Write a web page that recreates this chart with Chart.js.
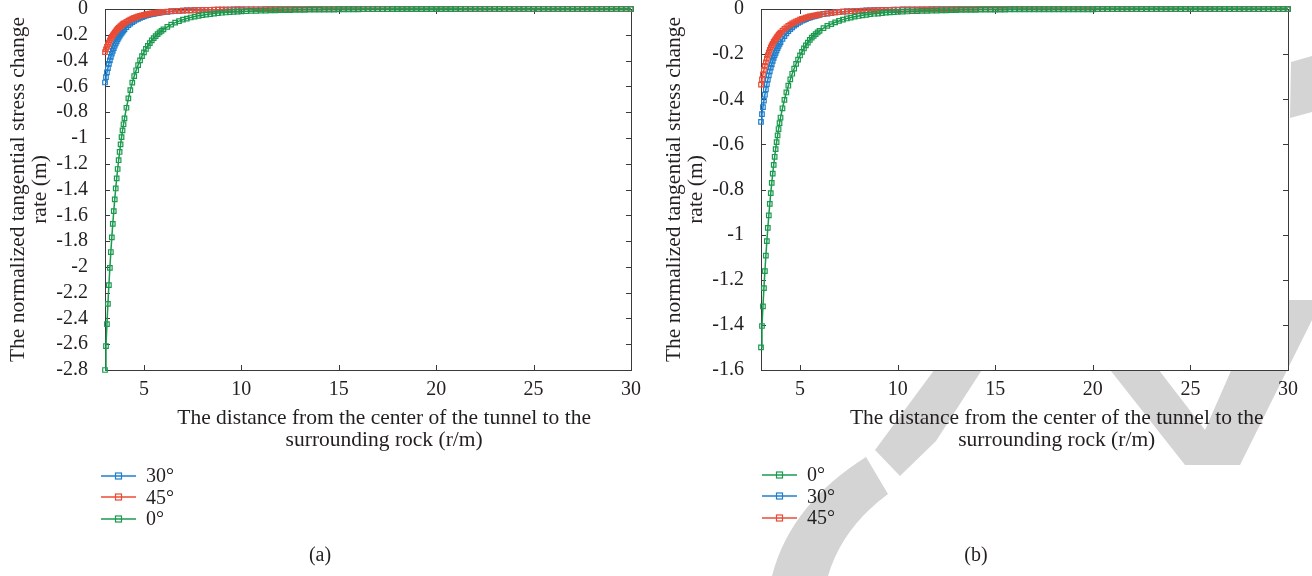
<!DOCTYPE html>
<html>
<head>
<meta charset="utf-8">
<script src="https://cdn.jsdelivr.net/npm/chart.js@4.4.0/dist/chart.umd.min.js"></script>
<style>
  body { margin: 0; background: #fff; }
  #page { position: relative; width: 1312px; height: 576px; overflow: hidden;
          font-family: "Liberation Serif", "DejaVu Serif", serif; color: #231f20; }
  #mark { position: absolute; left: 0; top: 0; }
  canvas { position: absolute; top: 0; }
  #ca { left: 0; }
  #cb { left: 656px; }
  .legend { position: absolute; font-size: 20px; }
  .legend div { display: flex; align-items: center; height: 21.5px; }
  .legend svg { margin-right: 9px; }
  .cap { position: absolute; top: 543px; width: 100px; font-size: 20px; text-align: center; }
</style>
</head>
<body>
<div id="page">
  <!-- grey watermark, sits behind the figure -->
  <svg id="mark" width="1312" height="576">
    <g fill="#d4d4d4">
      <path d="M772 576 Q 790 505 866 457 L 888 494 Q 842 528 828 576 Z"/>
      <polygon points="875,450 900,476 936,441 1027,300 986,300"/>
      <polygon points="1055,300 1105,300 1205,430 1262,300 1312,300 1312,320 1240,465 1185,465"/>
      <polygon points="1291,62 1312,56 1312,112 1290,118"/>
    </g>
  </svg>
  <canvas id="ca" width="656" height="576"></canvas>
  <canvas id="cb" width="656" height="576"></canvas>
  <div class="legend" id="la" style="left:101px;top:465px"></div>
  <div class="legend" id="lb" style="left:762px;top:464px"></div>
  <div class="cap" style="left:270px">(a)</div>
  <div class="cap" style="left:926px">(b)</div>
</div>
<script>
// distance r (m)
const radius = [
  3, 3.05, 3.1, 3.15, 3.2, 3.25, 3.3, 3.35, 3.4, 3.45, 3.5, 3.55, 3.6, 3.65, 3.7, 3.75, 3.8, 3.85, 3.9, 3.95, 4,
  4.1, 4.2, 4.3, 4.4, 4.5, 4.6, 4.7, 4.8, 4.9, 5, 5.1, 5.2, 5.3, 5.4, 5.5, 5.6, 5.7, 5.8, 5.9, 6,
  6.2, 6.4, 6.6, 6.8, 7, 7.2, 7.4, 7.6, 7.8, 8, 8.2, 8.4, 8.6, 8.8, 9, 9.2, 9.4, 9.6, 9.8, 10,
  10.25, 10.5, 10.75, 11, 11.25, 11.5, 11.75, 12, 12.25, 12.5, 12.75, 13, 13.25, 13.5, 13.75, 14, 14.25, 14.5, 14.75, 15,
  15.25, 15.5, 15.75, 16, 16.25, 16.5, 16.75, 17, 17.25, 17.5, 17.75, 18, 18.25, 18.5, 18.75, 19, 19.25, 19.5, 19.75, 20,
  20.25, 20.5, 20.75, 21, 21.25, 21.5, 21.75, 22, 22.25, 22.5, 22.75, 23, 23.25, 23.5, 23.75, 24, 24.25, 24.5, 24.75, 25,
  25.25, 25.5, 25.75, 26, 26.25, 26.5, 26.75, 27, 27.25, 27.5, 27.75, 28, 28.25, 28.5, 28.75, 29, 29.25, 29.5, 29.75, 30
];

// panel (a)
const a0 = [
  -2.800, -2.614, -2.444, -2.287, -2.142, -2.008, -1.885, -1.771, -1.666, -1.568, -1.477, -1.392, -1.314, -1.241, -1.173, -1.109, -1.050, -0.994, -0.942, -0.894, -0.848,
  -0.766, -0.693, -0.629, -0.571, -0.520, -0.475, -0.435, -0.398, -0.365, -0.336, -0.310, -0.286, -0.264, -0.244, -0.226, -0.210, -0.195, -0.182, -0.169, -0.158,
  -0.138, -0.121, -0.106, -0.094, -0.083, -0.074, -0.066, -0.059, -0.053, -0.048, -0.043, -0.039, -0.035, -0.032, -0.029, -0.027, -0.024, -0.022, -0.021, -0.019,
  -0.017, -0.015, -0.014, -0.013, -0.012, -0.011, -0.010, -0.009, -0.008, -0.008, -0.007, -0.006, -0.006, -0.005, -0.005, -0.005, -0.004, -0.004, -0.004, -0.003,
  -0.003, -0.003, -0.003, -0.003, -0.002, -0.002, -0.002, -0.002, -0.002, -0.002, -0.001, -0.001, -0.001, -0.001, -0.001, -0.001, -0.001, -0.001, -0.001, -0.001,
  -0.001, -0.001, -0.001, -0.001, 0, 0, 0, 0, 0, 0, 0, 0, 0, 0, 0, 0, 0, 0, 0, 0,
  0, 0, 0, 0, 0, 0, 0, 0, 0, 0, 0, 0, 0, 0, 0, 0, 0, 0, 0, 0
];
const a30 = [
  -0.570, -0.529, -0.492, -0.458, -0.426, -0.398, -0.371, -0.347, -0.325, -0.304, -0.285, -0.267, -0.251, -0.236, -0.222, -0.209, -0.197, -0.185, -0.175, -0.165, -0.156,
  -0.140, -0.125, -0.113, -0.102, -0.092, -0.083, -0.076, -0.069, -0.063, -0.057, -0.052, -0.048, -0.044, -0.040, -0.037, -0.034, -0.032, -0.029, -0.027, -0.025,
  -0.022, -0.019, -0.016, -0.014, -0.013, -0.011, -0.010, -0.009, -0.008, -0.007, -0.006, -0.006, -0.005, -0.005, -0.004, -0.004, -0.004, -0.003, -0.003, -0.003,
  -0.002, -0.002, -0.002, -0.002, -0.001, -0.001, -0.001, -0.001, -0.001, -0.001, -0.001, -0.001, -0.001, -0.001, -0.001, -0.001, 0, 0, 0, 0,
  0, 0, 0, 0, 0, 0, 0, 0, 0, 0, 0, 0, 0, 0, 0, 0, 0, 0, 0, 0,
  0, 0, 0, 0, 0, 0, 0, 0, 0, 0, 0, 0, 0, 0, 0, 0, 0, 0, 0, 0,
  0, 0, 0, 0, 0, 0, 0, 0, 0, 0, 0, 0, 0, 0, 0, 0, 0, 0, 0, 0
];
const a45 = [
  -0.334, -0.313, -0.294, -0.276, -0.260, -0.244, -0.230, -0.217, -0.205, -0.194, -0.183, -0.173, -0.164, -0.155, -0.147, -0.140, -0.133, -0.126, -0.120, -0.114, -0.109,
  -0.099, -0.090, -0.082, -0.075, -0.069, -0.063, -0.058, -0.053, -0.049, -0.046, -0.042, -0.039, -0.036, -0.034, -0.031, -0.029, -0.027, -0.026, -0.024, -0.022,
  -0.020, -0.017, -0.015, -0.014, -0.012, -0.011, -0.010, -0.009, -0.008, -0.007, -0.007, -0.006, -0.006, -0.005, -0.005, -0.004, -0.004, -0.004, -0.003, -0.003,
  -0.002, -0.002, -0.002, -0.002, -0.001, -0.001, -0.001, -0.001, -0.001, -0.001, -0.001, -0.001, -0.001, -0.001, -0.001, -0.001, 0, 0, 0, 0,
  0, 0, 0, 0, 0, 0, 0, 0, 0, 0, 0, 0, 0, 0, 0, 0, 0, 0, 0, 0,
  0, 0, 0, 0, 0, 0, 0, 0, 0, 0, 0, 0, 0, 0, 0, 0, 0, 0, 0, 0,
  0, 0, 0, 0, 0, 0, 0, 0, 0, 0, 0, 0, 0, 0, 0, 0, 0, 0, 0, 0
];

// panel (b)
const b0 = [
  -1.500, -1.405, -1.318, -1.237, -1.162, -1.093, -1.029, -0.970, -0.915, -0.864, -0.816, -0.771, -0.730, -0.691, -0.655, -0.621, -0.590, -0.560, -0.532, -0.506, -0.481,
  -0.440, -0.403, -0.370, -0.340, -0.312, -0.287, -0.264, -0.243, -0.224, -0.206, -0.190, -0.175, -0.161, -0.149, -0.137, -0.127, -0.119, -0.111, -0.104, -0.097,
  -0.085, -0.075, -0.067, -0.059, -0.053, -0.047, -0.042, -0.038, -0.034, -0.031, -0.028, -0.026, -0.023, -0.021, -0.020, -0.018, -0.016, -0.015, -0.014, -0.013,
  -0.012, -0.011, -0.010, -0.009, -0.008, -0.008, -0.007, -0.007, -0.006, -0.006, -0.005, -0.005, -0.004, -0.004, -0.004, -0.004, -0.003, -0.003, -0.003, -0.003,
  -0.003, -0.003, -0.002, -0.002, -0.002, -0.002, -0.002, -0.002, -0.002, -0.002, -0.002, -0.002, -0.002, -0.002, -0.002, -0.002, -0.002, -0.002, -0.002, -0.002,
  -0.001, -0.001, -0.001, -0.001, -0.001, -0.001, -0.001, -0.001, -0.001, -0.001, -0.001, -0.001, -0.001, -0.001, -0.001, -0.001, -0.001, -0.001, -0.001, -0.001,
  -0.001, -0.001, -0.001, -0.001, -0.001, -0.001, -0.001, -0.001, -0.001, -0.001, -0.001, -0.001, -0.001, -0.001, -0.001, -0.001, -0.001, -0.001, -0.001, -0.001
];
const b30 = [
  -0.500, -0.466, -0.435, -0.406, -0.380, -0.356, -0.333, -0.313, -0.294, -0.276, -0.260, -0.245, -0.230, -0.217, -0.205, -0.194, -0.183, -0.173, -0.164, -0.155, -0.147,
  -0.133, -0.120, -0.108, -0.098, -0.089, -0.081, -0.074, -0.068, -0.062, -0.057, -0.052, -0.048, -0.045, -0.041, -0.038, -0.035, -0.033, -0.030, -0.028, -0.026,
  -0.023, -0.020, -0.018, -0.015, -0.014, -0.012, -0.011, -0.010, -0.009, -0.008, -0.007, -0.006, -0.006, -0.005, -0.005, -0.004, -0.004, -0.004, -0.003, -0.003,
  -0.002, -0.002, -0.002, -0.002, -0.002, -0.002, -0.001, -0.001, -0.001, -0.001, -0.001, -0.001, -0.001, -0.001, -0.001, -0.001, -0.001, -0.001, -0.001, -0.001,
  0, 0, 0, 0, 0, 0, 0, 0, 0, 0, 0, 0, 0, 0, 0, 0, 0, 0, 0, 0,
  0, 0, 0, 0, 0, 0, 0, 0, 0, 0, 0, 0, 0, 0, 0, 0, 0, 0, 0, 0,
  0, 0, 0, 0, 0, 0, 0, 0, 0, 0, 0, 0, 0, 0, 0, 0, 0, 0, 0, 0
];
const b45 = [
  -0.335, -0.312, -0.290, -0.270, -0.252, -0.236, -0.220, -0.206, -0.193, -0.181, -0.170, -0.161, -0.154, -0.146, -0.139, -0.133, -0.126, -0.121, -0.115, -0.110, -0.105,
  -0.096, -0.088, -0.081, -0.075, -0.069, -0.064, -0.059, -0.055, -0.051, -0.047, -0.044, -0.041, -0.038, -0.036, -0.033, -0.031, -0.029, -0.028, -0.026, -0.024,
  -0.022, -0.019, -0.017, -0.015, -0.014, -0.012, -0.011, -0.010, -0.009, -0.008, -0.008, -0.007, -0.006, -0.006, -0.005, -0.005, -0.005, -0.004, -0.004, -0.004,
  -0.003, -0.003, -0.003, -0.003, -0.002, -0.002, -0.002, -0.002, -0.002, -0.002, -0.001, -0.001, -0.001, -0.001, -0.001, -0.001, -0.001, -0.001, -0.001, -0.001,
  -0.001, -0.001, -0.001, -0.001, 0, 0, 0, 0, 0, 0, 0, 0, 0, 0, 0, 0, 0, 0, 0, 0,
  0, 0, 0, 0, 0, 0, 0, 0, 0, 0, 0, 0, 0, 0, 0, 0, 0, 0, 0, 0,
  0, 0, 0, 0, 0, 0, 0, 0, 0, 0, 0, 0, 0, 0, 0, 0, 0, 0, 0, 0
];

const angleLabels = ['0°', '30°', '45°'];
const angleColors = ['#1a9a4e', '#1f7fcc', '#ea4b35'];
const xTitle = ['The distance from the center of the tunnel to the', 'surrounding rock (r/m)'];
const yTitle = ['The normalized tangential stress change', 'rate (m)'];

const serif = '"Liberation Serif", "DejaVu Serif", serif';
const ink = '#231f20';
const axisInk = '#3a3a3a';

// white axes box with inward tick marks on all four sides (matlab look)
const frame = {
  id: 'frame',
  beforeDraw(chart) {
    const { ctx, chartArea: a } = chart;
    ctx.save();
    ctx.fillStyle = '#fff';
    ctx.fillRect(a.left, a.top, a.right - a.left, a.bottom - a.top);
    ctx.restore();
  },
  beforeDatasetsDraw(chart) {
    const { ctx, chartArea: a, scales: { x, y } } = chart;
    const len = 5;
    ctx.save();
    ctx.strokeStyle = axisInk;
    ctx.lineWidth = 1;
    ctx.beginPath();
    x.ticks.forEach(t => {
      const p = Math.round(x.getPixelForValue(t.value)) + 0.5;
      ctx.moveTo(p, a.bottom); ctx.lineTo(p, a.bottom - len);
      ctx.moveTo(p, a.top); ctx.lineTo(p, a.top + len);
    });
    y.ticks.forEach(t => {
      const p = Math.round(y.getPixelForValue(t.value)) + 0.5;
      ctx.moveTo(a.left, p); ctx.lineTo(a.left + len, p);
      ctx.moveTo(a.right, p); ctx.lineTo(a.right - len, p);
    });
    ctx.stroke();
    ctx.strokeRect(Math.round(a.left) + 0.5, Math.round(a.top) + 0.5,
      Math.round(a.right - a.left), Math.round(a.bottom - a.top));
    ctx.restore();
  }
};

// xShift nudges the centred x title to the right, as in the source figure
function drawPanel(id, series, yMin, rightPad, xShift) {
  // index 0 is drawn last, so green ends up on top
  const order = [0, 2, 1];
  const datasets = order.map(k => ({
    label: angleLabels[k],
    data: radius.map((r, i) => ({ x: r, y: series[k][i] })),
    borderColor: angleColors[k],
    borderWidth: 1.5,
    pointStyle: 'rect',
    pointRadius: 3.2,
    pointBorderWidth: 1.2,
    pointBorderColor: angleColors[k],
    pointBackgroundColor: 'rgba(255,255,255,0)',
    tension: 0,
    clip: false
  }));
  const pad = '\u2002'.repeat(xShift);

  new Chart(document.getElementById(id), {
    type: 'line',
    data: { datasets },
    options: {
      responsive: false,
      animation: false,
      layout: { padding: { left: 0, right: rightPad, top: 9, bottom: 124 } },
      plugins: { legend: { display: false }, tooltip: { enabled: false } },
      scales: {
        x: {
          type: 'linear', min: 3, max: 30,
          grid: { display: false },
          border: { display: false },
          ticks: { stepSize: 5, includeBounds: false, padding: 0, color: ink,
                   font: { family: serif, size: 20 } },
          title: { display: true, text: xTitle.map(s => pad + s), color: ink,
                   font: { family: serif, size: 21.5, lineHeight: 1.04 },
                   padding: { top: 0, bottom: 0 } },
          afterFit: s => { s.height = 82; s.paddingLeft = 0; s.paddingRight = 0; }
        },
        y: {
          type: 'linear', min: yMin, max: 0,
          grid: { display: false },
          border: { display: false },
          ticks: { stepSize: 0.2, autoSkip: false, padding: 9, color: ink,
                   font: { family: serif, size: 20 },
                   callback: v => String(Math.round(v * 10) / 10) },
          title: { display: true, text: yTitle, color: ink,
                   font: { family: serif, size: 21.5, lineHeight: 1.02 },
                   padding: { top: 7, bottom: 0 } },
          afterFit: s => { s.width = 105; s.paddingTop = 0; s.paddingBottom = 0; }
        }
      }
    },
    plugins: [frame]
  });
}

function drawLegend(id, keys) {
  const box = document.getElementById(id);
  keys.forEach(k => {
    const c = angleColors[k];
    const row = document.createElement('div');
    row.innerHTML =
      `<svg width="36" height="12"><line x1="0" y1="6" x2="35" y2="6" stroke="${c}" stroke-width="1.5"/>` +
      `<rect x="14.5" y="3" width="6" height="6" fill="none" stroke="${c}" stroke-width="1.2"/></svg>` +
      `<span>${angleLabels[k]}</span>`;
    box.appendChild(row);
  });
}

drawPanel('ca', [a0, a30, a45], -2.8, 25, 3);
drawPanel('cb', [b0, b30, b45], -1.6, 24, 6);
drawLegend('la', [1, 2, 0]);
drawLegend('lb', [0, 1, 2]);
</script>
</body>
</html>
